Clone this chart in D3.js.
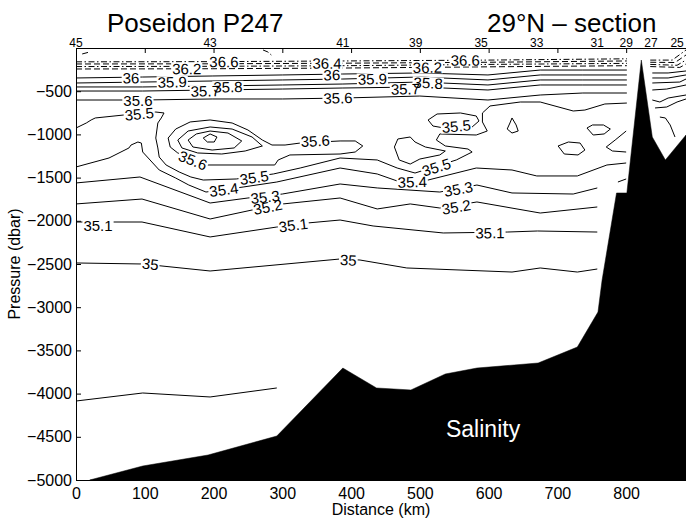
<!DOCTYPE html>
<html>
<head>
<meta charset="utf-8">
<script src="https://cdn.jsdelivr.net/npm/d3@7"></script>
<style>
body { margin: 0; background: #fff; }
svg { font-family: "Liberation Sans", Arial, Helvetica, sans-serif; }
</style>
</head>
<body>
<div id="chart"></div>
<script>
// Poseidon P247, 29N section: salinity contours, distance (km) vs pressure (dbar, negative down)

var xTicks = [0, 100, 200, 300, 400, 500, 600, 700, 800];
var yTicks = [-5000, -4500, -4000, -3500, -3000, -2500, -2000, -1500, -1000, -500];
var stationNames = ["45", "43", "41", "39", "35", "33", "31", "29", "27", "25"];
var stationKm = [0, 195, 388, 494, 589, 670, 758, 800, 836, 874];

// sea floor
var bottomKm = [20, 97, 192, 292, 388, 437, 487, 537, 583, 672, 729, 759, 765, 786, 801, 822, 838, 857, 887, 887];
var bottomP = [-5000, -4838, -4711, -4491, -3704, -3935, -3958, -3773, -3704, -3646, -3461, -3056, -2685, -1678, -1678, -139, -1030, -1296, -1007, -5000];

// isohalines, [km, pressure]
var c368a = [[9, -69], [20, -46]];
var c368b = [[272, -23], [279, -46], [284, -81]];
var c366 = [[0, -160], [198, -158], [388, -150], [599, -140], [801, -125]];
var c366r = [[835, -140], [867, -140], [887, -23]];
var c364 = [[0, -185], [198, -183], [388, -176], [599, -165], [801, -150]];
var c364r = [[835, -165], [871, -168], [887, -81]];
var c363 = [[0, -215], [198, -212], [388, -205], [599, -190], [801, -178]];
var c363r = [[835, -190], [874, -200], [887, -139]];
var c362 = [[0, -243], [198, -240], [388, -232], [599, -218], [801, -205]];
var c362r = [[835, -215], [878, -225], [887, -185]];
var c360 = [[0, -347], [97, -336], [198, -324], [300, -312], [388, -301], [500, -289], [599, -312], [675, -255], [737, -255], [801, -255]];
var c360r = [[838, -289], [861, -289], [887, -266]];
var c359 = [[0, -405], [97, -394], [198, -382], [300, -370], [388, -359], [500, -336], [599, -370], [675, -312], [737, -312], [801, -312]];
var c359r = [[838, -347], [861, -347], [887, -312]];
var c358 = [[0, -451], [97, -451], [198, -440], [300, -428], [388, -417], [500, -394], [599, -428], [675, -370], [737, -370], [801, -370]];
var c358r = [[838, -405], [878, -394], [887, -359]];
var c357 = [[0, -498], [97, -498], [198, -486], [300, -475], [388, -463], [500, -451], [599, -486], [675, -428], [737, -428], [801, -428]];
var c357r = [[838, -486], [859, -475], [887, -428]];
var c356 = [[0, -602], [97, -602], [198, -590], [300, -590], [388, -579], [500, -556], [599, -602], [675, -544], [737, -521], [801, -521]];
var c356r = [[838, -602], [849, -625], [861, -579], [887, -544]];
// meddy
var c356lens = [[417, -1134], [406, -1076], [384, -1076], [326, -1100], [304, -1123], [285, -1123], [271, -1065], [250, -949], [227, -868], [195, -833], [166, -856], [145, -938], [134, -1042], [137, -1146], [148, -1215], [192, -1354], [289, -1354], [294, -1296], [311, -1238], [384, -1227], [406, -1204]];
var c357ring = [[195, -914], [227, -938], [256, -1030], [271, -1134], [246, -1192], [212, -1227], [177, -1215], [154, -1157], [148, -1065], [163, -961]];
var c358ring = [[195, -961], [221, -984], [241, -1076], [230, -1157], [198, -1181], [170, -1146], [163, -1065], [175, -995]];
var c359ring = [[195, -995], [205, -1030], [201, -1088], [191, -1088], [185, -1042]];
var c355 = [[0, -926], [15, -868], [22, -833], [28, -810], [70, -775], [116, -741], [128, -752], [124, -810], [119, -868], [116, -1042], [119, -1157], [121, -1262], [131, -1354], [150, -1435], [167, -1493], [185, -1528], [233, -1516], [287, -1458], [326, -1389], [384, -1273], [438, -1296], [467, -1389], [493, -1447], [553, -1296], [576, -1204], [570, -1169], [537, -1134], [524, -1065], [529, -995], [582, -1007], [598, -961], [591, -856], [591, -752], [602, -671], [646, -625], [675, -625], [723, -729], [740, -718], [769, -648], [801, -637]];
var c355r = [[842, -694], [859, -683], [874, -625], [887, -590]];
var c355arc = [[849, -799], [857, -810], [864, -891], [871, -1030]];
var c355loop = [[512, -833], [525, -764], [559, -752], [582, -787], [586, -845], [576, -914], [544, -938], [519, -903]];
var c355blob = [[463, -1146], [468, -1053], [486, -1030], [493, -1088], [508, -1146], [537, -1192], [529, -1238], [500, -1285], [486, -1343], [470, -1296]];
var c355drop = [[634, -810], [640, -891], [643, -961], [634, -984], [627, -938], [631, -868]];
var c355eye = [[743, -926], [751, -891], [767, -891], [777, -938], [768, -995], [752, -1007]];
var c355hook = [[800, -961], [784, -1065], [771, -1146], [780, -1192], [800, -1204]];
var c355pool = [[701, -1134], [716, -1088], [733, -1100], [740, -1181], [730, -1238], [710, -1227]];
var c354 = [[0, -1377], [48, -1273], [77, -1157], [80, -1123], [90, -1088], [95, -1100], [97, -1204], [105, -1273], [121, -1412], [145, -1505], [164, -1586], [189, -1667], [243, -1609], [292, -1551], [384, -1389], [438, -1458], [467, -1539], [512, -1528], [582, -1389], [634, -1412], [670, -1481], [729, -1481], [772, -1354], [800, -1331]];
var c354step = [[788, -1551], [800, -1516]];
var c353 = [[0, -1562], [93, -1493], [195, -1794], [250, -1736], [300, -1690], [384, -1574], [438, -1620], [529, -1667], [583, -1586], [634, -1678], [723, -1690], [758, -1620]];
var c352 = [[0, -1805], [96, -1748], [195, -1979], [256, -1875], [301, -1805], [384, -1736], [438, -1863], [486, -1805], [529, -1852], [583, -1782], [675, -1910], [758, -1840]];
var c351 = [[0, -2014], [96, -2014], [195, -2187], [292, -2072], [337, -2025], [384, -1991], [432, -2060], [534, -2141], [627, -2130], [671, -2118], [758, -2130]];
var c350 = [[0, -2488], [97, -2500], [195, -2581], [384, -2442], [413, -2454], [481, -2546], [634, -2593], [675, -2546], [729, -2593], [758, -2558]];
var c349 = [[0, -4086], [97, -3993], [195, -4039], [292, -3935]];

// contour labels
var labelLevels = [36.6, 36.6, 36.2, 36.2, 36.4, 36, 36, 35.9, 35.9, 35.7, 35.8, 35.7, 35.8, 35.6, 35.6, 35.6, 35.6, 35.5, 35.5, 35.5, 35.5, 35.4, 35.4, 35.3, 35.3, 35.2, 35.2, 35.1, 35.1, 35.1, 35, 35];
var labelKm = [215, 566, 161, 511, 365, 80, 372, 140, 431, 188, 221, 479, 512, 90, 381, 348, 170, 92, 259, 524, 553, 215, 489, 275, 556, 279, 553, 32, 316, 602, 108, 396];
var labelP = [-160, -142, -241, -225, -178, -347, -312, -394, -359, -498, -451, -475, -405, -613, -579, -1076, -1300, -764, -1500, -1380, -905, -1640, -1551, -1725, -1632, -1840, -1840, -2060, -2050, -2141, -2500, -2454];

var contourLines = [
	{level: 36.8, pts: c368a}, {level: 36.8, pts: c368b},
	{level: 36.6, pts: c366}, {level: 36.6, pts: c366r},
	{level: 36.4, pts: c364}, {level: 36.4, pts: c364r},
	{level: 36.3, pts: c363}, {level: 36.3, pts: c363r},
	{level: 36.2, pts: c362}, {level: 36.2, pts: c362r},
	{level: 36, pts: c360}, {level: 36, pts: c360r},
	{level: 35.9, pts: c359}, {level: 35.9, pts: c359r},
	{level: 35.8, pts: c358}, {level: 35.8, pts: c358r},
	{level: 35.7, pts: c357}, {level: 35.7, pts: c357r},
	{level: 35.6, pts: c356}, {level: 35.6, pts: c356r},
	{level: 35.6, pts: c356lens, closed: true},
	{level: 35.7, pts: c357ring, closed: true},
	{level: 35.8, pts: c358ring, closed: true},
	{level: 35.9, pts: c359ring, closed: true},
	{level: 35.5, pts: c355}, {level: 35.5, pts: c355r}, {level: 35.5, pts: c355arc},
	{level: 35.5, pts: c355loop, closed: true}, {level: 35.5, pts: c355blob, closed: true},
	{level: 35.5, pts: c355drop, closed: true}, {level: 35.5, pts: c355eye, closed: true},
	{level: 35.5, pts: c355hook}, {level: 35.5, pts: c355pool, closed: true},
	{level: 35.4, pts: c354}, {level: 35.4, pts: c354step},
	{level: 35.3, pts: c353}, {level: 35.2, pts: c352},
	{level: 35.1, pts: c351}, {level: 35, pts: c350}, {level: 34.9, pts: c349}
];

var width = 686, height = 525;
var margin = {top: 48, right: 0, bottom: 45, left: 76};
var plotW = width - margin.left - margin.right;
var plotH = height - margin.top - margin.bottom;

var x = d3.scaleLinear().domain([0, 887]).range([margin.left, margin.left + plotW]);
var y = d3.scaleLinear().domain([-5000, 0]).range([margin.top + plotH, margin.top]);

var svg = d3.select("#chart").append("svg")
	.attr("width", width)
	.attr("height", height);

svg.append("defs").append("clipPath").attr("id", "plot_clip")
	.append("rect")
	.attr("x", margin.left).attr("y", margin.top)
	.attr("width", plotW).attr("height", plotH);

var plot = svg.append("g").attr("clip-path", "url(#plot_clip)");

var line = d3.line().x(function(d) { return x(d[0]); }).y(function(d) { return y(d[1]); });
var closedLine = d3.line().x(function(d) { return x(d[0]); }).y(function(d) { return y(d[1]); })
	.curve(d3.curveLinearClosed);

// upper (saltier) levels are dashed
function dashFor(level) {
	if (level >= 36.15) {
		if (level == 36.4 || level == 36.2) return "6,3";
		return "6,2.5,1.5,2.5";
	}
	return null;
}

plot.selectAll("path.isohaline")
	.data(contourLines)
	.enter()
	.append("path")
	.attr("class", "isohaline")
	.attr("d", function(d) { return d.closed ? closedLine(d.pts) : line(d.pts); })
	.attr("fill", "none")
	.attr("stroke", "#000")
	.attr("stroke-width", 1)
	.attr("stroke-dasharray", function(d) { return dashFor(d.level); });

// label angle follows the nearest segment of its own level
function labelAngle(level, px, py) {
	var best = 0, bestD = Infinity;
	contourLines.forEach(function(c) {
		if (Math.abs(c.level - level) > 1e-6) return;
		var pts = c.pts.map(function(p) { return [x(p[0]), y(p[1])]; });
		if (c.closed) pts.push(pts[0]);
		for (var i = 0; i < pts.length - 1; i++) {
			var ax = pts[i][0], ay = pts[i][1], bx = pts[i + 1][0], by = pts[i + 1][1];
			var dx = bx - ax, dy = by - ay;
			var t = ((px - ax) * dx + (py - ay) * dy) / (dx * dx + dy * dy || 1);
			t = Math.max(0, Math.min(1, t));
			var qx = ax + t * dx - px, qy = ay + t * dy - py;
			var dist = qx * qx + qy * qy;
			if (dist < bestD) {
				bestD = dist;
				var a = Math.atan2(dy, dx) * 180 / Math.PI;
				if (a > 90) a -= 180;
				if (a < -90) a += 180;
				best = a;
			}
		}
	});
	return best;
}

var labels = labelLevels.map(function(lv, i) {
	var px = x(labelKm[i]), py = y(labelP[i]);
	return {text: d3.format("")(lv), px: px, py: py, angle: labelAngle(lv, px, py)};
});

var labelBg = plot.append("g").attr("class", "label_bg");
var labelTx = plot.append("g").attr("class", "label_text");

labels.forEach(function(d) {
	var tr = "translate(" + d.px + "," + d.py + ") rotate(" + d.angle + ")";
	var t = labelTx.append("text")
		.attr("transform", tr)
		.attr("text-anchor", "middle")
		.attr("dy", "0.36em")
		.attr("font-size", 15)
		.attr("fill", "#000")
		.text(d.text);
	var len = t.node().getComputedTextLength();
	labelBg.append("rect")
		.attr("transform", tr)
		.attr("x", -len / 2 - 1)
		.attr("y", -6)
		.attr("width", len + 2)
		.attr("height", 12)
		.attr("fill", "#fff");
});

// sea floor
var floorPts = bottomKm.map(function(k, i) { return [k, bottomP[i]]; });
plot.append("path")
	.attr("d", closedLine(floorPts))
	.attr("fill", "#000")
	.attr("stroke", "#000")
	.attr("stroke-width", 0.5);

plot.append("text")
	.attr("x", x(538))
	.attr("y", y(-4500))
	.attr("font-size", 23)
	.attr("fill", "#fff")
	.text("Salinity");

// axes
var axes = svg.append("g").attr("class", "axes");
axes.append("g")
	.attr("transform", "translate(0," + (margin.top + plotH) + ")")
	.call(d3.axisBottom(x).tickValues(xTicks).tickSizeInner(-5).tickSizeOuter(0).tickPadding(8)
		.tickFormat(d3.format("d")));
axes.append("g")
	.attr("transform", "translate(" + margin.left + ",0)")
	.call(d3.axisLeft(y).tickValues(yTicks).tickSizeInner(-5).tickSizeOuter(0).tickPadding(4)
		.tickFormat(d3.format("d")));
axes.append("g")
	.attr("transform", "translate(0," + margin.top + ")")
	.call(d3.axisTop(x).tickValues(xTicks).tickSizeInner(-5).tickSizeOuter(0).tickFormat(""));
axes.selectAll("text")
	.attr("font-family", "Liberation Sans, Arial, sans-serif")
	.attr("font-size", 16)
	.attr("fill", "#000");
axes.selectAll("path.domain, .tick line").attr("stroke", "#000");

// station numbers along the top
svg.selectAll("text.station")
	.data(stationNames)
	.enter()
	.append("text")
	.attr("class", "station")
	.attr("x", function(d, i) { return x(stationKm[i]); })
	.attr("y", margin.top - 1)
	.attr("text-anchor", "middle")
	.attr("font-size", 12)
	.text(function(d) { return d; });

svg.append("text")
	.attr("x", 107)
	.attr("y", 32)
	.attr("font-size", 26)
	.text("Poseidon P247");
svg.append("text")
	.attr("x", 487)
	.attr("y", 32)
	.attr("font-size", 26)
	.text("29°N – section");

svg.append("text")
	.attr("x", margin.left + plotW / 2)
	.attr("y", 515)
	.attr("text-anchor", "middle")
	.attr("font-size", 16)
	.text("Distance (km)");
svg.append("text")
	.attr("transform", "translate(20," + (margin.top + plotH / 2) + ") rotate(-90)")
	.attr("text-anchor", "middle")
	.attr("font-size", 16)
	.text("Pressure (dbar)");
</script>
</body>
</html>
